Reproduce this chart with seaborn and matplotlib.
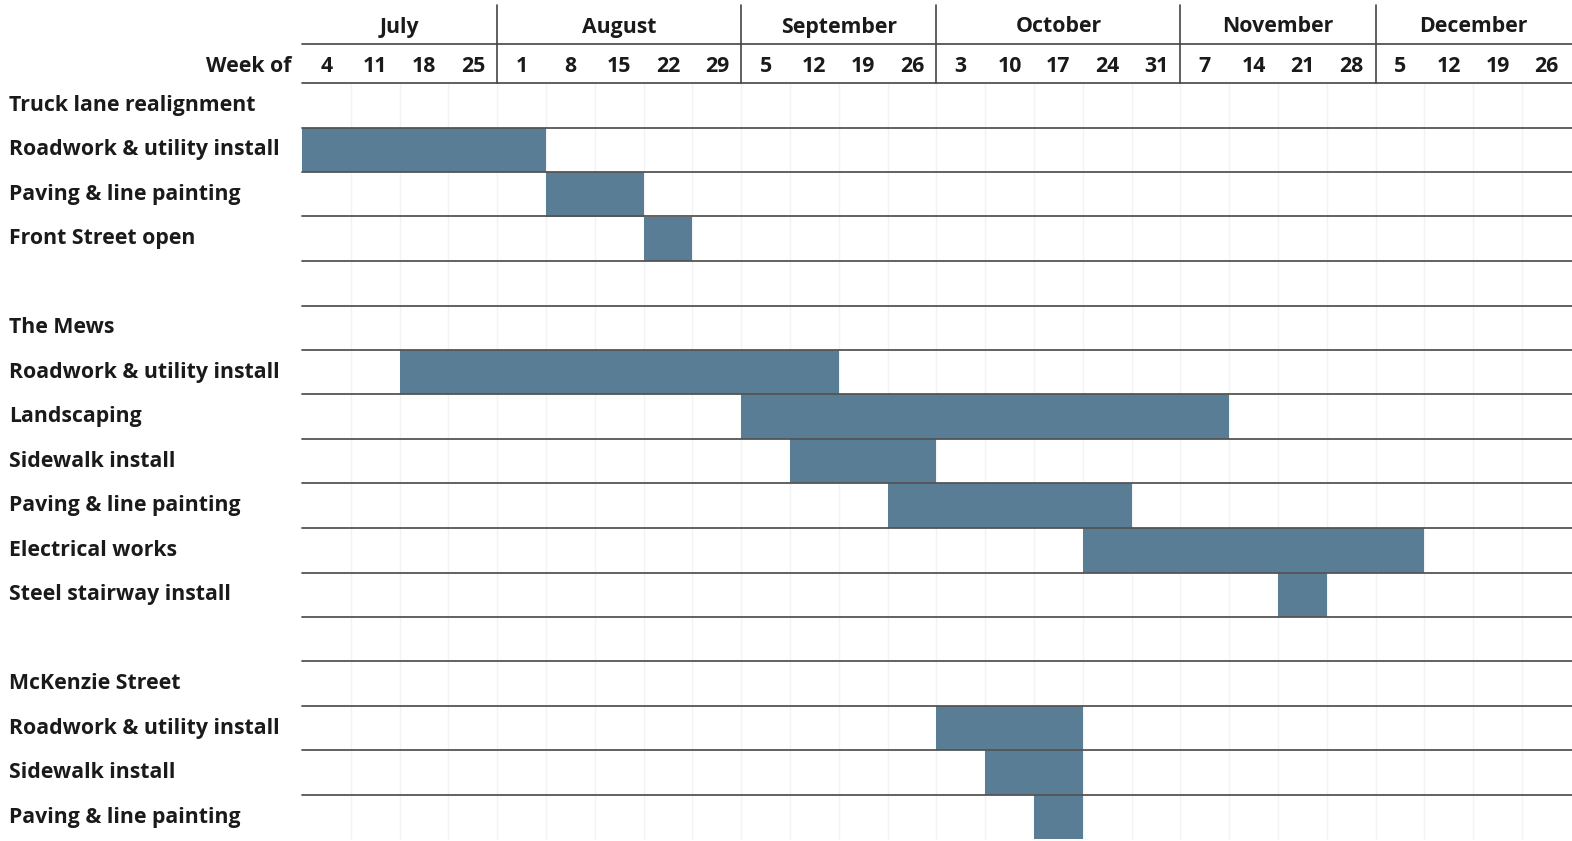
import matplotlib
matplotlib.use("Agg")
import matplotlib.pyplot as plt
import matplotlib.transforms as mtransforms
import seaborn as sns
import pandas as pd

# ---- data ----
tasks = ["Truck lane realignment", "Roadwork & utility install", "Paving & line painting",
         "Front Street open", "", "The Mews", "Roadwork & utility install", "Landscaping",
         "Sidewalk install", "Paving & line painting", "Electrical works",
         "Steel stairway install", "", "McKenzie Street", "Roadwork & utility install",
         "Sidewalk install", "Paving & line painting"]
start_week = [None, 0, 5, 7, None, None, 2, 9, 10, 12, 16, 20, None, None, 13, 14, 15]
duration_weeks = [None, 5, 2, 1, None, None, 9, 10, 3, 5, 7, 1, None, None, 3, 2, 1]
months = ["July", "August", "September", "October", "November", "December"]
weeks_per_month = [4, 5, 4, 5, 4, 4]
week_labels = [4, 11, 18, 25, 1, 8, 15, 22, 29, 5, 12, 19, 26, 3, 10, 17, 24, 31,
               7, 14, 21, 28, 5, 12, 19, 26]

df = pd.DataFrame({"task": tasks, "start": start_week, "dur": duration_weeks})
df["row"] = range(len(df))

sns.set_theme(style="white")
plt.rcParams["font.family"] = ["Open Sans", "DejaVu Sans"]

W, H = 1572, 841
fig = plt.figure(figsize=(W / 100, H / 100), dpi=100)
ax = fig.add_axes([0, 0, 1, 1])

col_w = 48.8
x0_px = 302
row_h = 44.5
y0_px = 83
ax.set_xlim(-x0_px / col_w, (W - x0_px) / col_w)
ax.set_ylim((H - y0_px) / row_h, -y0_px / row_h)
ax.axis("off")

bar_color = "#5a7d96"
txt_color = "#1a1a1a"
nweeks = len(week_labels)
nrows = len(tasks)

# faint weekly gridlines
for k in range(1, nweeks):
    ax.plot([k, k], [0, nrows], color="#f3f3f3", lw=1, zorder=0)

# bars
bars = df.dropna(subset=["start"])
ax.barh(bars["row"] + 0.5, bars["dur"], left=bars["start"], height=1.0,
        color=bar_color, edgecolor="none", zorder=2)

# row lines
for r in range(1, nrows):
    ax.plot([0, nweeks + 1], [r, r], color="#555555", lw=1.3, zorder=3)

# header lines
y_month_line = (44 - y0_px) / row_h
y_top = (5 - y0_px) / row_h
ax.plot([0, nweeks + 1], [y_month_line, y_month_line], color="#444444", lw=1.2, zorder=3)
ax.plot([0, nweeks + 1], [0, 0], color="#444444", lw=1.2, zorder=3)

fs = 15.3
y_month_txt = (27 - y0_px) / row_h
y_week_txt = (66 - y0_px) / row_h
pos = 0
for m, n in zip(months, weeks_per_month):
    ax.text(pos + n / 2, y_month_txt, m, ha="center", va="center",
            fontsize=fs, fontweight="bold", color=txt_color)
    if pos > 0:
        ax.plot([pos, pos], [y_top, 0], color="#444444", lw=1.2, zorder=3)
    pos += n

for k, w in enumerate(week_labels):
    ax.text(k + 0.5, y_week_txt, str(w), ha="center", va="center",
            fontsize=fs, fontweight="bold", color=txt_color)

trans = mtransforms.blended_transform_factory(fig.transFigure, ax.transData)
ax.text(291 / W, y_week_txt, "Week of", ha="right", va="center", transform=trans,
        fontsize=fs, fontweight="bold", color=txt_color)

for _, r in df.iterrows():
    if r["task"]:
        ax.text(9 / W, r["row"] + 0.5, r["task"], ha="left", va="center",
                transform=trans, fontsize=fs, fontweight="bold", color=txt_color)

fig.savefig("out.png", dpi=100)
